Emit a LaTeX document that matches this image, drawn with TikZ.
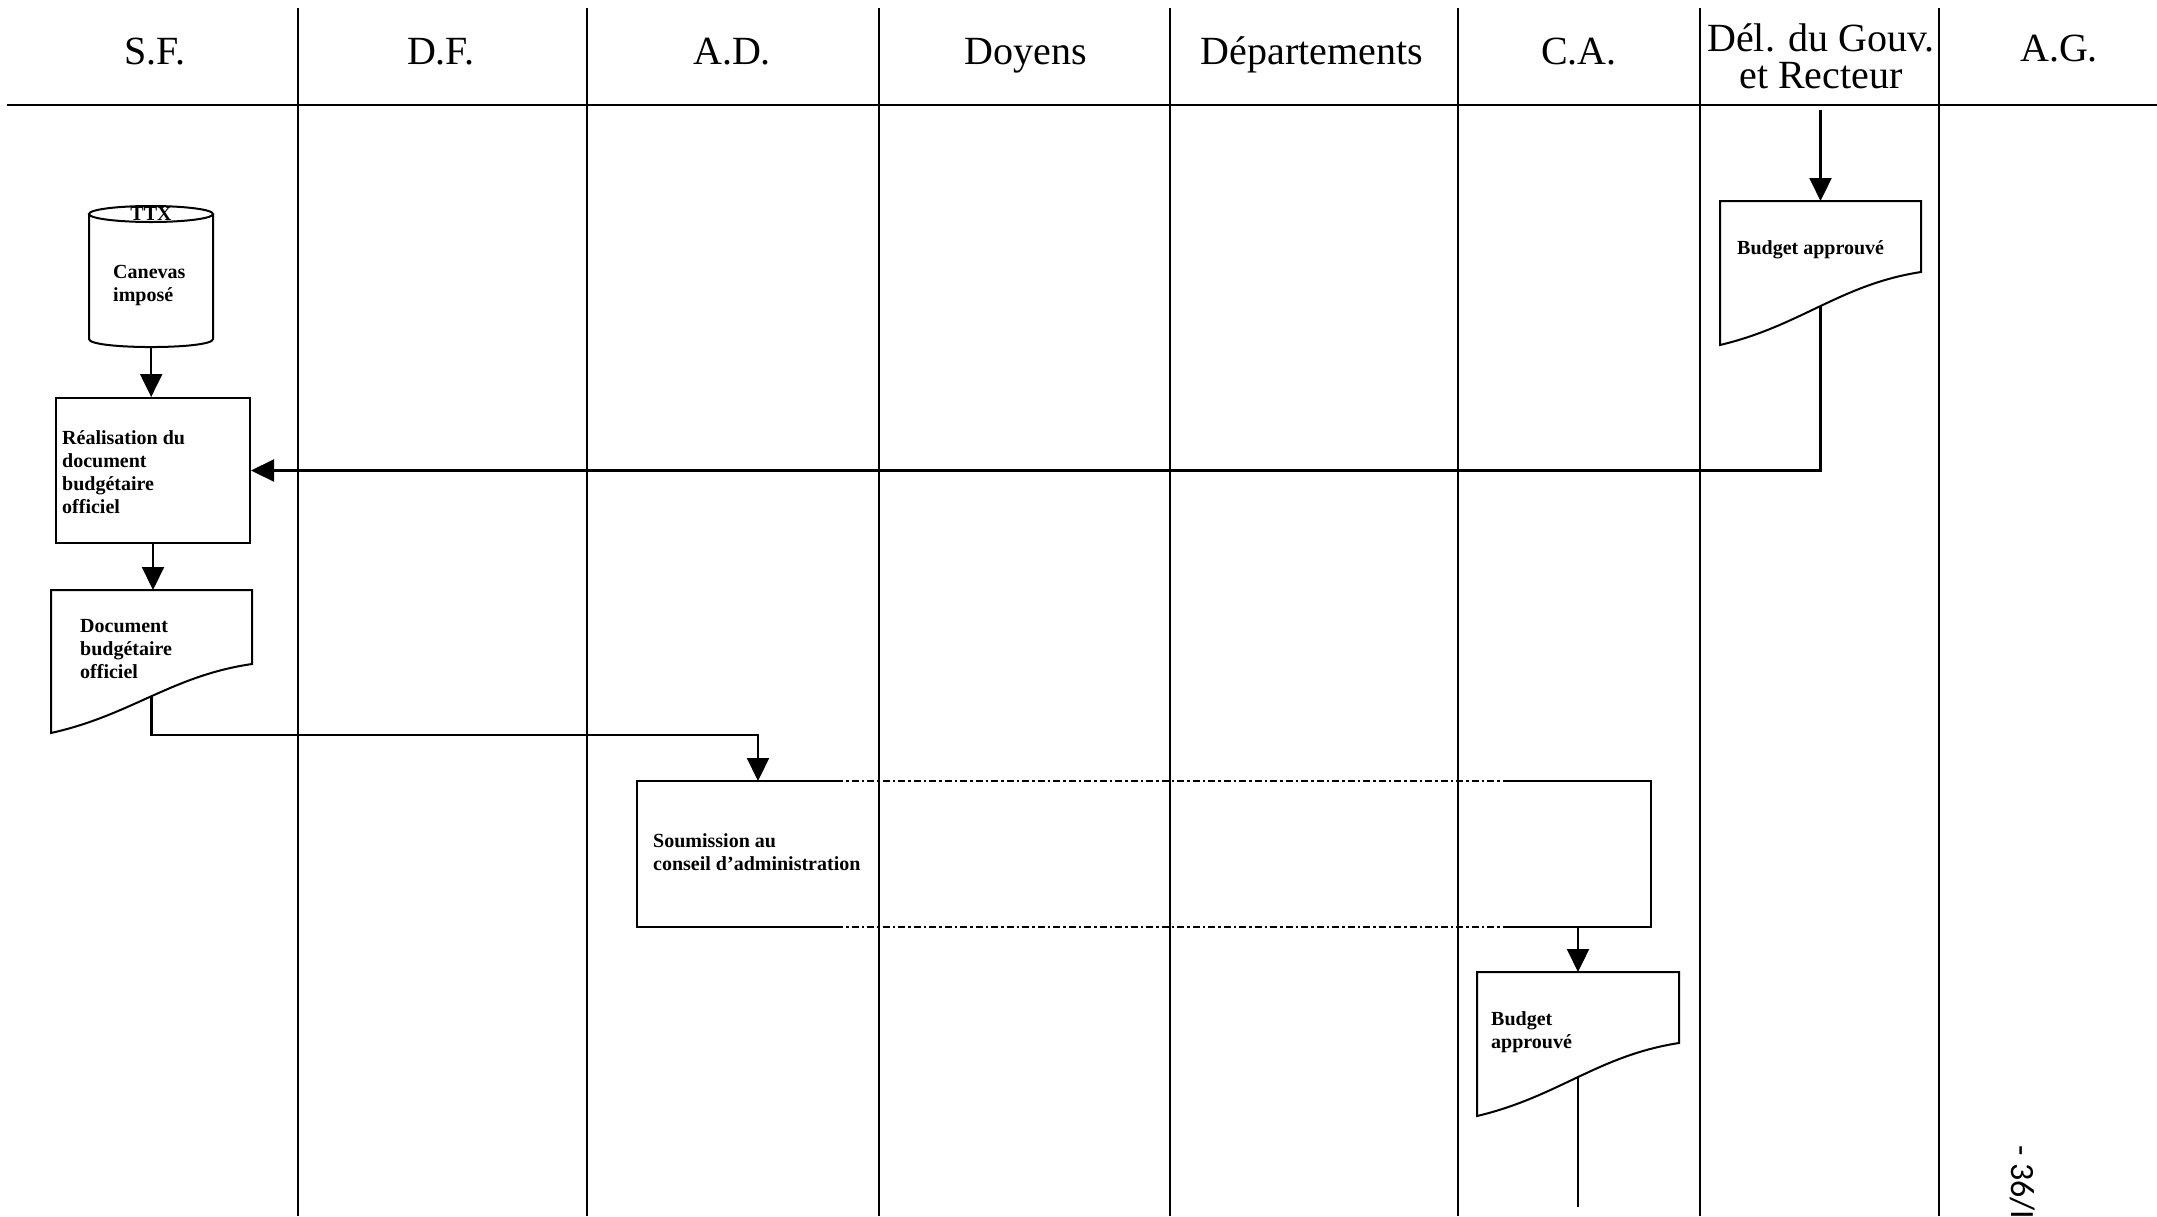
\documentclass[tikz,border=0pt]{standalone}
\usepackage{fontspec}
\setmainfont{Liberation Serif}
\newfontfamily\pagefont{Carlito}
\usetikzlibrary{arrows.meta,calc}
\begin{document}
\begin{tikzpicture}[x=1pt,y=-1pt,
  lane/.style={line width=1.5pt},
  box/.style={line width=2pt, line join=miter},
  flow/.style={line width=2.2pt},
  arr/.style={flow, -{Triangle[length=23pt,width=22pt]}},
  dotline/.style={line width=2pt, dash pattern=on 7pt off 3pt on 2.5pt off 3pt},
  head/.style={font=\fontsize{40}{40}\selectfont, inner sep=0pt, anchor=base},
  txt/.style={font=\fontsize{20}{23}\selectfont\bfseries, inner sep=0pt, align=left, anchor=north west},
  frame/.style={draw=none, inner sep=0pt, anchor=north west},
]
\useasboundingbox[fill=white] (0,0) rectangle (2157,1216);

% swimlane grid
\draw[line width=2.5pt] (7,105) -- (2157,105);
\foreach \x in {298,587,879,1170,1458,1700,1939}
  \draw[lane] (\x,8) -- (\x,1216);

% lane titles
\node[head] (hsf)  at (155,64)  {S.F.};
\node[head] (hdf)  at (441,64)  {D.F.};
\node[head] (had)  at (732,64)  {A.D.};
\node[head] (hdoy) at (1026,64) {Doyens};
\node[head] (hdep) at (1312,64) {Départements};
\node[head] (hca)  at (1579,64) {C.A.};
\node[head] (hdel) at (1821,51) {Dél. du Gouv.};
\node[head] (hrec) at (1821,88) {et Recteur};
\node[head] (hag)  at (2059,61) {A.G.};

% template store (cylinder)
\node[frame, minimum width=124pt, minimum height=141pt] (canevas) at (89,206) {};
\draw[box] (89,214) -- (89,339) .. controls (89,349.7) and (213,349.7) .. (213,339) -- (213,214);
\draw[box] (151,214) ellipse[x radius=62, y radius=8];
\node[font=\fontsize{20}{23}\selectfont\bfseries, inner sep=0pt] (ttx) at (151,214) {TTX};
\node[txt] (canevas-t) at (113,265) {Canevas\\imposé};

% drafting step
\node[draw, box, minimum width=194pt, minimum height=145pt, anchor=north west, inner sep=0pt] (real) at (55,397) {};
\node[txt] (real-t) at (62,430) {Réalisation du\\document\\budgétaire\\officiel};
\draw[arr] (canevas.south) -- (canevas.south |- real.north);

% official budget document
\node[frame, minimum width=201pt, minimum height=143pt] (doc1) at (51,590) {};
\draw[box] (51,733) -- (51,590) -- (252,590) -- (252,664)
  .. controls (171.6,675.7) and (131.4,715.1) .. (51,733) -- cycle;
\node[txt] (doc1-t) at (80,619) {Document\\budgétaire\\officiel};
\coordinate (doc1w) at (151.5,696);
\draw[arr] (real.south) -- (real.south |- doc1.north);

% submission to the board, spanning several lanes
\node[frame, minimum width=1014pt, minimum height=146pt] (soum) at (637,781) {};
\draw[box] ($(soum.north west)+(199,0)$) -- (soum.north west) -- (soum.south west) -- ++(199,0);
\draw[dotline] ($(soum.north west)+(199,0)$) -- ($(soum.north east)+(-146,0)$);
\draw[dotline] ($(soum.south west)+(199,0)$) -- ($(soum.south east)+(-146,0)$);
\draw[box] ($(soum.north east)+(-146,0)$) -- (soum.north east) -- (soum.south east) -- ++(-146,0);
\node[txt] (soum-t) at (653,833) {Soumission au\\conseil d'administration};
\coordinate (soumin) at (758,781);
\coordinate (soumout) at (1578,927);
\draw[arr] (doc1w) |- ([yshift=46pt]soumin) -- (soumin);

% budget approved by the board
\node[frame, minimum width=202pt, minimum height=144pt] (docca) at (1477,972) {};
\draw[box] (1477,1116) -- (1477,972) -- (1679,972) -- (1679,1043)
  .. controls (1598.2,1055.4) and (1557.8,1097) .. (1477,1116) -- cycle;
\node[txt] (docca-t) at (1491,1011) {Budget\\approuvé};
\coordinate (doccaw) at (1578,1077);
\coordinate (doccaend) at (1578,1207);
\draw[arr] (soumout) -- (soumout |- docca.north);
\draw[flow] (doccaw) -- (doccaend);

% budget approved by the delegate and rector
\node[frame, minimum width=201pt, minimum height=144pt] (docdel) at (1720,201) {};
\draw[box] (1720,345) -- (1720,201) -- (1921,201) -- (1921,272)
  .. controls (1840.6,284.4) and (1800.4,326) .. (1720,345) -- cycle;
\node[txt] (docdel-t) at (1737,240) {Budget approuvé};
\coordinate (delin) at (1820.5,110);
\coordinate (docdelw) at (1820.5,306);
\draw[arr] (delin) -- (delin |- docdel.north);
\draw[arr] (docdelw) |- (real.east);

% page number
\node[font=\pagefont\fontsize{34}{34}\selectfont, rotate=-90, anchor=base west, inner sep=0pt] (pg) at (2011,1145) {- 36/II -};
\end{tikzpicture}
\end{document}
